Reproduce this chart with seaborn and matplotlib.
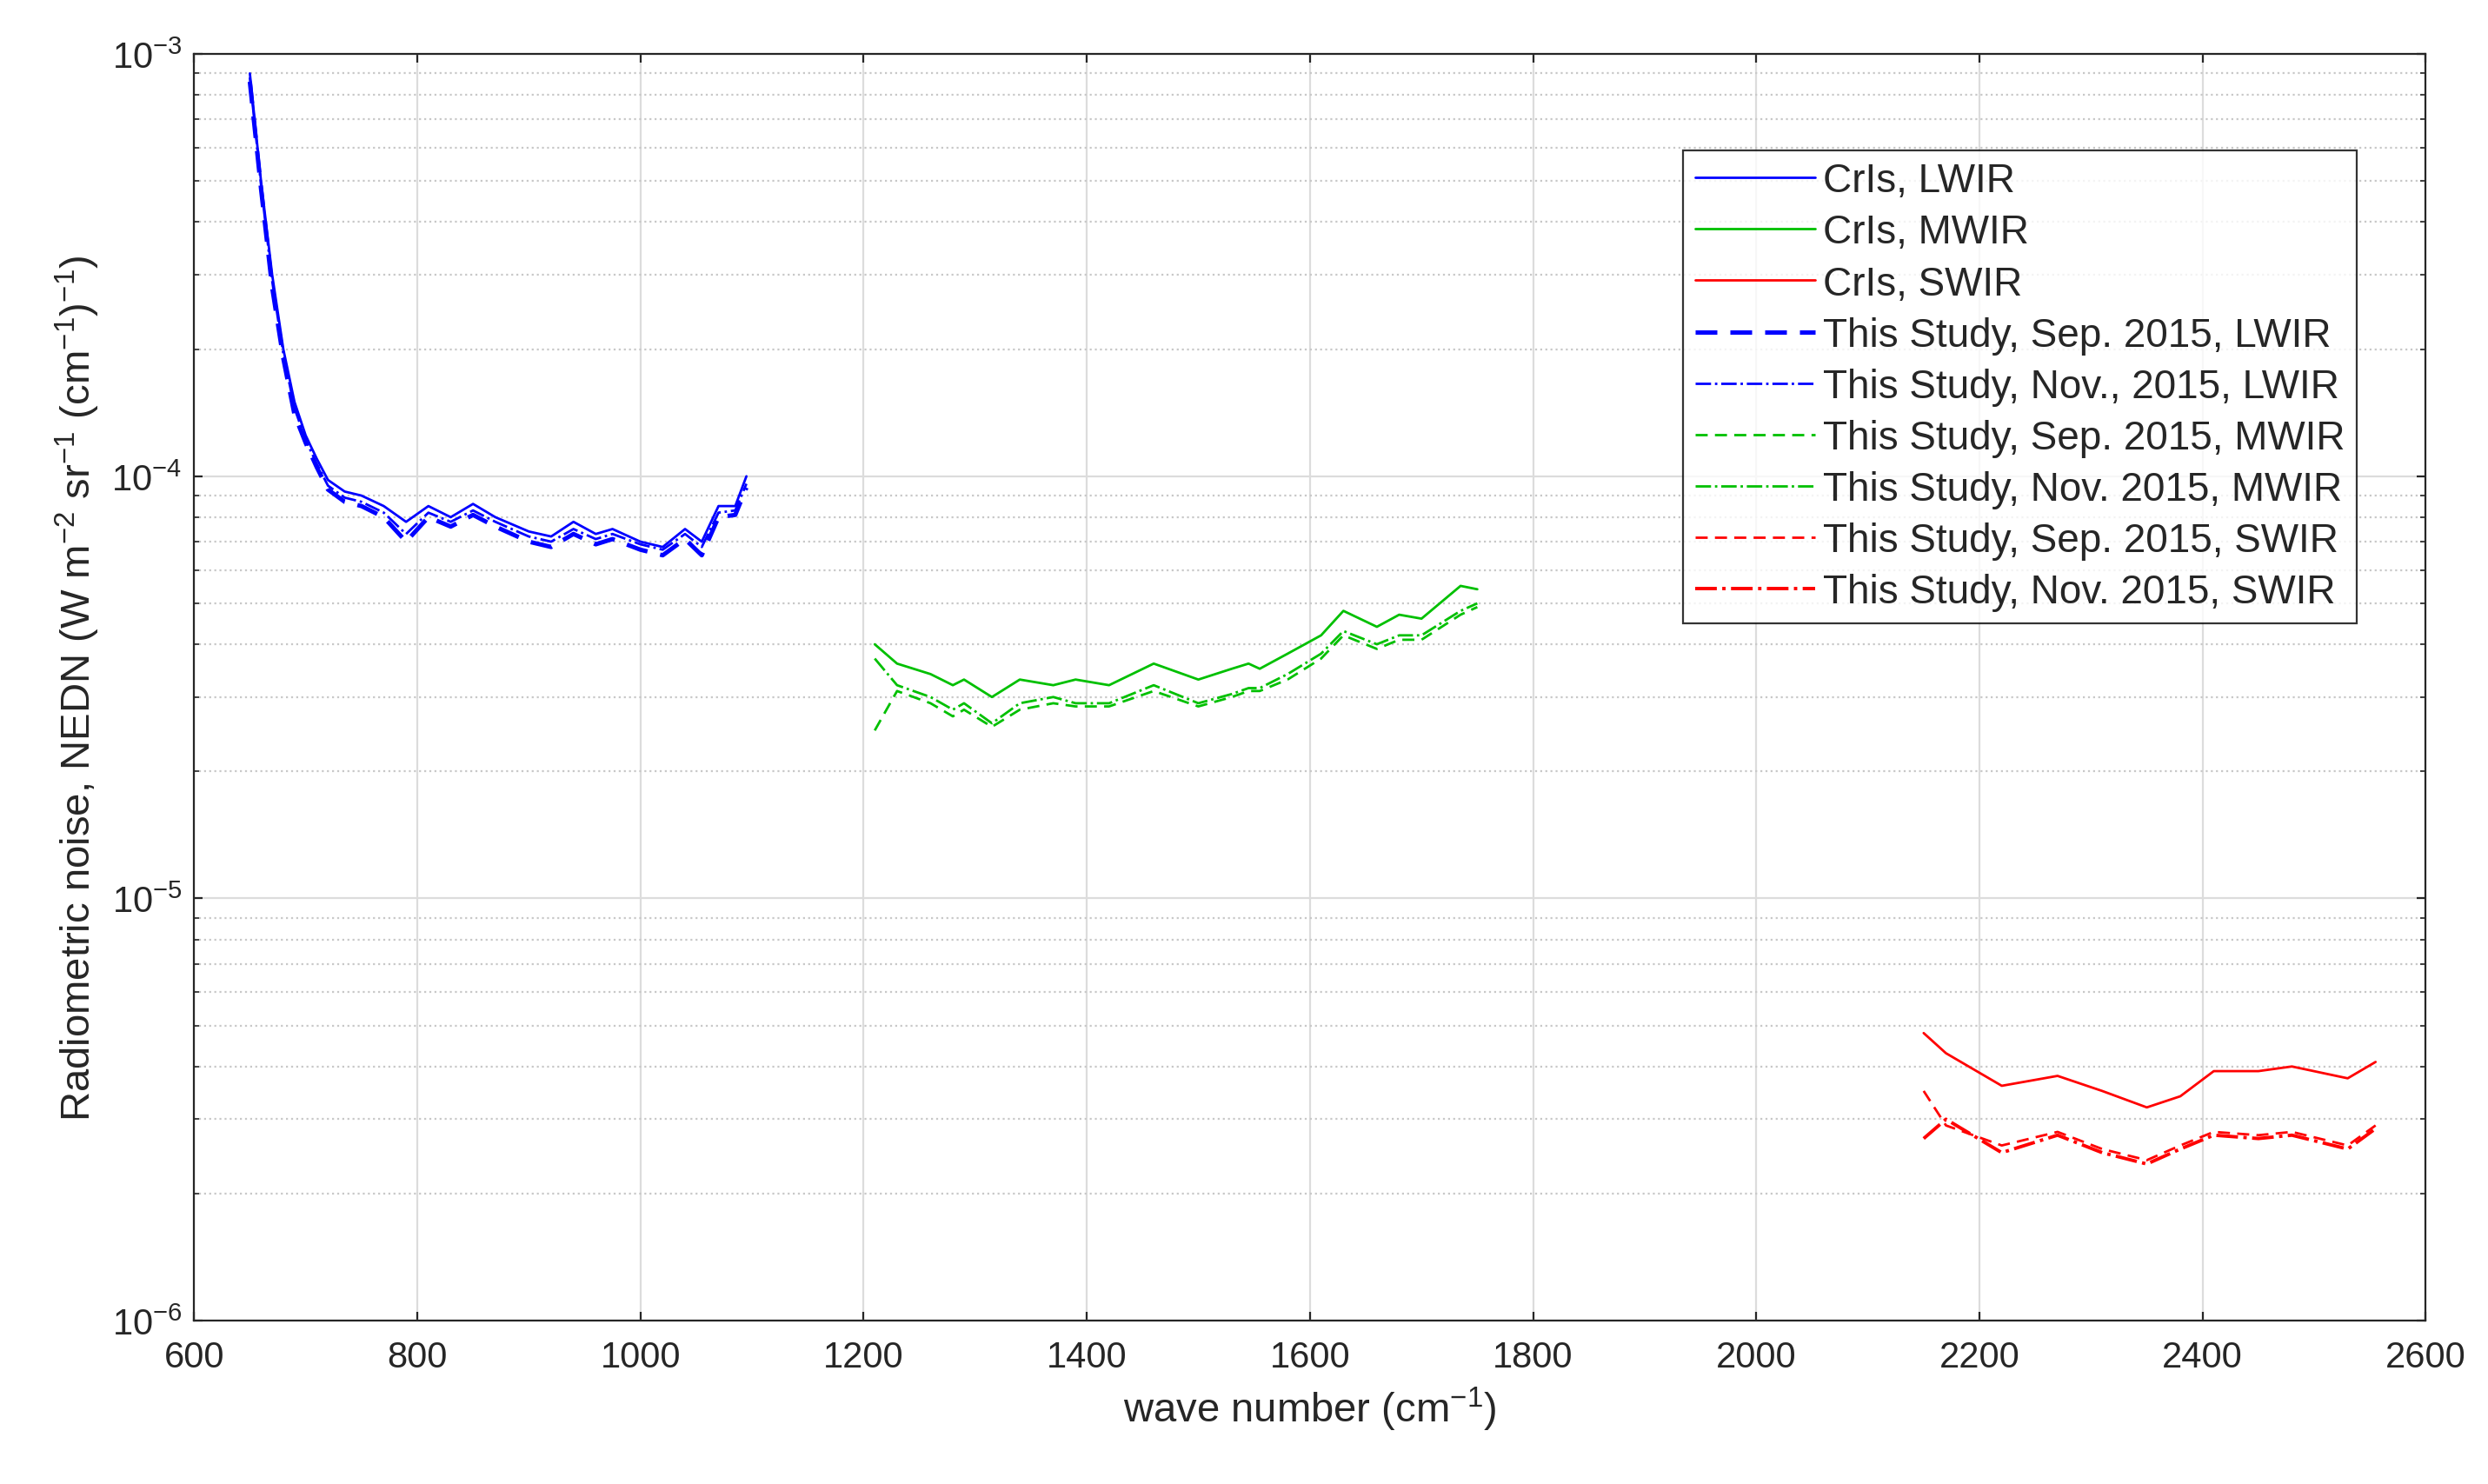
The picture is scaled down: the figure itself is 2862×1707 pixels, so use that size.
import matplotlib
matplotlib.use("Agg")
import matplotlib.pyplot as plt
import seaborn as sns
from matplotlib.ticker import LogLocator, NullFormatter

# wave numbers (cm-1) and NEDN values
lw_x = [650, 660, 670, 680, 690, 700, 710, 720, 735, 750, 770, 790, 810, 830, 850, 870, 900, 920,
        940, 960, 975, 1000, 1020, 1040, 1055, 1070, 1085, 1095]
lw_cris = [9.0e-4, 5.0e-4, 3.0e-4, 2.0e-4, 1.5e-4, 1.25e-4, 1.1e-4, 9.8e-5, 9.2e-5, 9.0e-5, 8.5e-5,
           7.8e-5, 8.5e-5, 8.0e-5, 8.6e-5, 8.0e-5, 7.4e-5, 7.2e-5, 7.8e-5, 7.3e-5, 7.5e-5, 7.0e-5,
           6.8e-5, 7.5e-5, 7.0e-5, 8.5e-5, 8.5e-5, 1.0e-4]
lw_sep = [8.6e-4, 4.8e-4, 2.8e-4, 1.9e-4, 1.4e-4, 1.2e-4, 1.05e-4, 9.3e-5, 8.7e-5, 8.5e-5, 8.0e-5,
          7.0e-5, 8.0e-5, 7.6e-5, 8.1e-5, 7.6e-5, 7.0e-5, 6.8e-5, 7.3e-5, 6.9e-5, 7.1e-5, 6.7e-5,
          6.5e-5, 7.1e-5, 6.5e-5, 8.0e-5, 8.1e-5, 9.4e-5]
lw_nov = [8.8e-4, 4.9e-4, 2.9e-4, 1.95e-4, 1.45e-4, 1.22e-4, 1.07e-4, 9.5e-5, 8.9e-5, 8.7e-5, 8.2e-5,
          7.3e-5, 8.2e-5, 7.8e-5, 8.3e-5, 7.8e-5, 7.2e-5, 7.0e-5, 7.5e-5, 7.1e-5, 7.3e-5, 6.9e-5,
          6.7e-5, 7.3e-5, 6.8e-5, 8.2e-5, 8.3e-5, 9.6e-5]

mw_x = [1210, 1230, 1260, 1280, 1290, 1315, 1340, 1370, 1390, 1420, 1460, 1500, 1530, 1545, 1555,
        1580, 1610, 1630, 1660, 1680, 1700, 1735, 1750]
mw_cris = [4.0e-5, 3.6e-5, 3.4e-5, 3.2e-5, 3.3e-5, 3.0e-5, 3.3e-5, 3.2e-5, 3.3e-5, 3.2e-5, 3.6e-5,
           3.3e-5, 3.5e-5, 3.6e-5, 3.5e-5, 3.8e-5, 4.2e-5, 4.8e-5, 4.4e-5, 4.7e-5, 4.6e-5, 5.5e-5, 5.4e-5]
mw_sep = [2.5e-5, 3.1e-5, 2.9e-5, 2.7e-5, 2.8e-5, 2.55e-5, 2.8e-5, 2.9e-5, 2.85e-5, 2.85e-5, 3.1e-5,
          2.85e-5, 3.0e-5, 3.1e-5, 3.1e-5, 3.3e-5, 3.7e-5, 4.2e-5, 3.9e-5, 4.1e-5, 4.1e-5, 4.7e-5, 4.9e-5]
mw_nov = [3.7e-5, 3.2e-5, 3.0e-5, 2.8e-5, 2.9e-5, 2.6e-5, 2.9e-5, 3.0e-5, 2.9e-5, 2.9e-5, 3.2e-5,
          2.9e-5, 3.05e-5, 3.15e-5, 3.15e-5, 3.4e-5, 3.8e-5, 4.3e-5, 4.0e-5, 4.2e-5, 4.2e-5, 4.8e-5, 5.0e-5]

sw_x = [2150, 2170, 2220, 2270, 2310, 2350, 2380, 2410, 2450, 2480, 2530, 2555]
sw_cris = [4.8e-6, 4.3e-6, 3.6e-6, 3.8e-6, 3.5e-6, 3.2e-6, 3.4e-6, 3.9e-6, 3.9e-6, 4.0e-6, 3.75e-6, 4.1e-6]
sw_sep = [3.5e-6, 2.9e-6, 2.6e-6, 2.8e-6, 2.55e-6, 2.4e-6, 2.6e-6, 2.8e-6, 2.75e-6, 2.8e-6, 2.6e-6, 2.9e-6]
sw_nov = [2.7e-6, 3.0e-6, 2.5e-6, 2.75e-6, 2.5e-6, 2.35e-6, 2.55e-6, 2.75e-6, 2.7e-6, 2.75e-6, 2.55e-6, 2.85e-6]

sns.set_style("ticks")
plt.rcParams["font.family"] = ["Liberation Sans", "DejaVu Sans"]
plt.rcParams["mathtext.fontset"] = "custom"
plt.rcParams["mathtext.rm"] = "Liberation Sans"

fig = plt.figure(figsize=(14.31, 8.54), dpi=200)
ax = fig.add_axes([0.078, 0.110, 0.897, 0.853])

blue, green, red = "#0000ff", "#00c000", "#ff0000"
series = [
    (lw_x, lw_cris, blue, "-", 1.0, "CrIs, LWIR"),
    (mw_x, mw_cris, green, "-", 1.0, "CrIs, MWIR"),
    (sw_x, sw_cris, red, "-", 1.0, "CrIs, SWIR"),
    (lw_x, lw_sep, blue, (0, (5, 3)), 1.8, "This Study, Sep. 2015, LWIR"),
    (lw_x, lw_nov, blue, "-.", 1.0, "This Study, Nov., 2015, LWIR"),
    (mw_x, mw_sep, green, (0, (5, 3)), 1.0, "This Study, Sep. 2015, MWIR"),
    (mw_x, mw_nov, green, "-.", 1.0, "This Study, Nov. 2015, MWIR"),
    (sw_x, sw_sep, red, (0, (5, 3)), 1.0, "This Study, Sep. 2015, SWIR"),
    (sw_x, sw_nov, red, "-.", 1.4, "This Study, Nov. 2015, SWIR"),
]
for x, y, c, ls, lw, lab in series:
    sns.lineplot(x=x, y=y, color=c, linestyle=ls, linewidth=lw, label=lab, ax=ax, sort=False)

ax.set_yscale("log")
ax.set_xlim(600, 2600)
ax.set_ylim(1e-6, 1e-3)
ax.set_xticks(range(600, 2601, 200))
ax.yaxis.set_major_locator(LogLocator(base=10, numticks=10))
ax.yaxis.set_minor_locator(LogLocator(base=10, subs=range(2, 10), numticks=10))
ax.yaxis.set_minor_formatter(NullFormatter())
ax.grid(True, which="major", color="#dcdcdc", linewidth=0.8)
ax.grid(True, which="minor", axis="y", color="#c8c8c8", linestyle=":", linewidth=0.8)
ax.tick_params(direction="in", which="both", top=True, right=True, labelsize=15)
ax.tick_params(axis="x", pad=8)
ax.tick_params(axis="y", pad=5)
for s in ax.spines.values():
    s.set_linewidth(0.8)

ax.set_xlabel(r"wave number (cm$^{-1}$)", fontsize=17)
ax.set_ylabel(r"Radiometric noise, NEDN (W m$^{-2}$ sr$^{-1}$ (cm$^{-1}$)$^{-1}$)", fontsize=17)

leg = ax.legend(loc="upper right", bbox_to_anchor=(0.978, 0.94), fontsize=16.5, frameon=True,
                fancybox=False, edgecolor="black", handlelength=3.0, handletextpad=0.2,
                borderpad=0.3, labelspacing=0.33)
leg.get_frame().set_linewidth(0.8)

fig.savefig("out.png", dpi=200)
